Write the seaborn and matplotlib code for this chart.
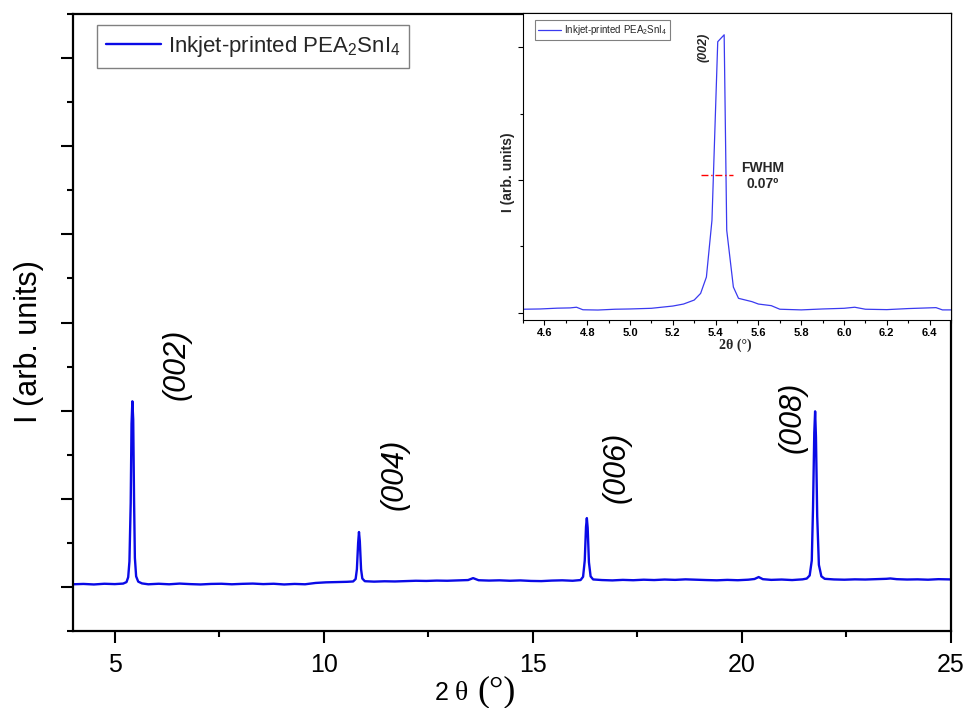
import matplotlib
matplotlib.use("Agg")
import matplotlib.pyplot as plt
from matplotlib.ticker import MultipleLocator
import pandas as pd
import seaborn as sns

# ---------------- data ----------------
# full XRD scan (2theta in degrees, intensity in arbitrary units)
theta_main = [
    4.00, 4.25, 4.50, 4.75, 5.00, 5.20, 5.28, 5.32, 5.35, 5.38, 5.40, 5.42,
    5.44, 5.46, 5.48, 5.51, 5.56, 5.65, 5.80, 6.05, 6.30, 6.55, 6.80, 7.05,
    7.30, 7.55, 7.80, 8.05, 8.30, 8.55, 8.80, 9.05, 9.30, 9.55, 9.80, 10.05,
    10.30, 10.55, 10.70, 10.76, 10.79, 10.82, 10.84, 10.86, 10.89, 10.92,
    10.98, 11.20, 11.45, 11.70, 11.95, 12.20, 12.45, 12.70, 12.95, 13.20,
    13.45, 13.57, 13.70, 13.95, 14.20, 14.45, 14.70, 14.95, 15.20, 15.45,
    15.70, 15.95, 16.14, 16.20, 16.24, 16.27, 16.29, 16.31, 16.34, 16.38,
    16.44, 16.65, 16.90, 17.15, 17.40, 17.65, 17.90, 18.15, 18.40, 18.65,
    18.90, 19.15, 19.40, 19.65, 19.90, 20.15, 20.30, 20.40, 20.50, 20.70,
    20.95, 21.20, 21.45, 21.55, 21.62, 21.67, 21.70, 21.73, 21.75, 21.77,
    21.80, 21.84, 21.90, 21.98, 22.20, 22.45, 22.70, 22.95, 23.20, 23.45,
    23.55, 23.70, 23.95, 24.20, 24.45, 24.70, 25.00,
]
counts_main = [
    30, 34, 28, 36, 32, 38, 55, 110, 290, 950, 1850, 2106,
    1900, 1000, 330, 120, 60, 40, 30, 36, 30, 38, 32, 28,
    34, 36, 30, 35, 38, 32, 36, 28, 34, 30, 45, 52,
    55, 58, 62, 90, 200, 500, 623, 520, 200, 95,
    65, 60, 64, 62, 66, 70, 68, 72, 70, 74,
    78, 100, 76, 72, 75, 70, 74, 68, 66, 72,
    75, 70, 78, 115, 300, 680, 781, 670, 280, 120,
    85, 78, 74, 80, 76, 82, 78, 84, 80, 86,
    82, 78, 75, 80, 76, 82, 90, 112, 88, 80,
    84, 78, 86, 95, 130, 300, 900, 1750, 1992, 1700,
    800, 250, 120, 92, 85, 82, 86, 84, 88, 92,
    96, 88, 84, 86, 82, 88, 85,
]

# zoomed scan around the (002) reflection
theta_zoom = [
    4.50, 4.58, 4.66, 4.72, 4.75, 4.78, 4.85, 4.93, 5.00, 5.10, 5.20, 5.25,
    5.30, 5.33, 5.357, 5.383, 5.41, 5.44, 5.452, 5.483, 5.507, 5.57, 5.60,
    5.66, 5.70, 5.80, 5.90, 6.00, 6.05, 6.10, 6.20, 6.30, 6.43, 6.46, 6.50,
]
counts_zoom = [
    28, 30, 36, 38, 43, 24, 22, 28, 30, 35, 52, 67,
    97, 147, 270, 697, 2040, 2092, 622, 195, 110, 85, 67,
    55, 28, 23, 30, 35, 43, 28, 25, 33, 40, 23, 23,
]

# reflection labels: text, 2theta position, height of label centre
hkl_labels = ["(002)", "(004)", "(006)", "(008)"]
hkl_x = [6.47, 11.70, 17.00, 21.20]
hkl_y = [2525, 1279, 1359, 1925]

fwhm_text = "FWHM\n0.07º"
fwhm_span = [5.33, 5.48]
fwhm_level = 1034

sample_name = "Inkjet-printed PEA$_2$SnI$_4$"

# ---------------- style ----------------
sns.set_style("white")
plt.rcParams["font.family"] = ["Liberation Sans", "DejaVu Sans"]
plt.rcParams["mathtext.fontset"] = "custom"
plt.rcParams["mathtext.rm"] = "Liberation Sans"
plt.rcParams["mathtext.it"] = "Liberation Sans:italic"
plt.rcParams["mathtext.bf"] = "Liberation Sans:bold"

W, H = 969, 708
fig = plt.figure(figsize=(W / 100, H / 100), dpi=100)


def fig_box(x0, y0, x1, y1):
    """pixel box (top-left origin) -> figure fraction rect"""
    return [x0 / W, 1 - y1 / H, (x1 - x0) / W, (y1 - y0) / H]


# ---------------- main panel ----------------
ax = fig.add_axes(fig_box(73, 14, 951, 631))
df_main = pd.DataFrame({"theta": theta_main, "I": counts_main})
sns.lineplot(data=df_main, x="theta", y="I", ax=ax, color="#0a0ae6",
             linewidth=1.7, label=sample_name, sort=False, estimator=None)

ax.set_xlim(4, 25)
ax.set_ylim(-500, 6500)
ax.xaxis.set_major_locator(MultipleLocator(5))
ax.xaxis.set_minor_locator(MultipleLocator(2.5))
ax.yaxis.set_major_locator(MultipleLocator(1000))
ax.yaxis.set_minor_locator(MultipleLocator(500))
ax.tick_params(which="both", direction="out", width=1.5, colors="black",
               bottom=True, left=True, top=False, right=False)
ax.tick_params(which="major", length=8.6, labelsize=18, pad=7)
ax.tick_params(which="minor", length=4.3)
ax.tick_params(axis="y", labelleft=False)
for s in ax.spines.values():
    s.set_visible(True)
    s.set_color("black")
    s.set_linewidth(1.6)
ax.set_xlabel("")
ax.set_ylabel("")

leg = ax.legend(loc="upper left", bbox_to_anchor=(0.027, 0.982),
                borderaxespad=0, fontsize=16, handlelength=2.5,
                handletextpad=0.3, borderpad=0.4, fancybox=False,
                framealpha=1, edgecolor="#808080")
leg.get_frame().set_linewidth(1.0)

for t, x, y in zip(hkl_labels, hkl_x, hkl_y):
    ax.text(x, y, t, rotation=90, ha="center", va="center",
            fontsize=22, style="italic", color="black")

# axis titles
fig.text(29.5 / W, 1 - 341.5 / H, "I (arb. units)", rotation=90,
         ha="center", va="center", fontsize=22, color="black")
fig.text(441.5 / W, 1 - 700 / H, "2", ha="center", va="baseline",
         fontsize=18, color="black")
fig.text(461.5 / W, 1 - 700 / H, "θ", ha="center", va="baseline",
         fontsize=20, family="Liberation Serif", color="black")
fig.text(497 / W, 1 - 700 / H, "(°)", ha="center", va="baseline",
         fontsize=26, family="Liberation Serif", color="black")

# ---------------- inset ----------------
axi = fig.add_axes(fig_box(523, 13, 951, 320))
axi.set_facecolor("white")
df_zoom = pd.DataFrame({"theta": theta_zoom, "I": counts_zoom})
sns.lineplot(data=df_zoom, x="theta", y="I", ax=axi, color="#3a3af0",
             linewidth=0.9, label=sample_name, sort=False, estimator=None)

axi.set_xlim(4.5, 6.5)
axi.set_ylim(-53, 2256)
axi.xaxis.set_minor_locator(MultipleLocator(0.1))
axi.yaxis.set_major_locator(MultipleLocator(1000))
axi.yaxis.set_minor_locator(MultipleLocator(500))
axi.set_xticks([4.6 + 0.2 * i for i in range(10)])
axi.set_xticklabels([f"{4.6 + 0.2 * i:.1f}" for i in range(10)])
axi.tick_params(which="both", direction="out", width=0.8, colors="black",
                bottom=True, left=True, top=False, right=False)
axi.tick_params(which="major", length=3.5, labelsize=8, pad=2)
axi.tick_params(which="minor", length=2.2)
axi.tick_params(axis="y", labelleft=False)
for lbl in axi.get_xticklabels():
    lbl.set_fontweight("bold")
for s in axi.spines.values():
    s.set_visible(True)
    s.set_color("black")
    s.set_linewidth(0.8)
axi.set_xlabel("")
axi.set_ylabel("")

fig.text(508 / W, 1 - 172.5 / H, "I (arb. units)", rotation=90,
         ha="center", va="center", fontsize=10, fontweight="bold")
fig.text(735 / W, 1 - 345 / H, "2θ (°)", ha="center", va="center",
         fontsize=10, fontweight="bold", family="Liberation Serif")

legi = axi.legend(loc="upper left", bbox_to_anchor=(0.028, 0.977),
                  borderaxespad=0, fontsize=7, handlelength=2.4,
                  handletextpad=0.3, borderpad=0.3, fancybox=False,
                  framealpha=1, edgecolor="#808080")
legi.get_frame().set_linewidth(0.8)

axi.text(5.343, 2001, "(002)", rotation=90, ha="center", va="center",
         fontsize=9, style="italic", fontweight="bold")
axi.plot(fwhm_span, [fwhm_level, fwhm_level], color="red",
         linestyle=(0, (5, 2, 1, 2)), linewidth=1.0)
axi.text(5.62, 1030, fwhm_text, ha="center", va="center", fontsize=10,
         fontweight="bold", linespacing=1.1)

fig.savefig("out.png", dpi=100, facecolor="white")
